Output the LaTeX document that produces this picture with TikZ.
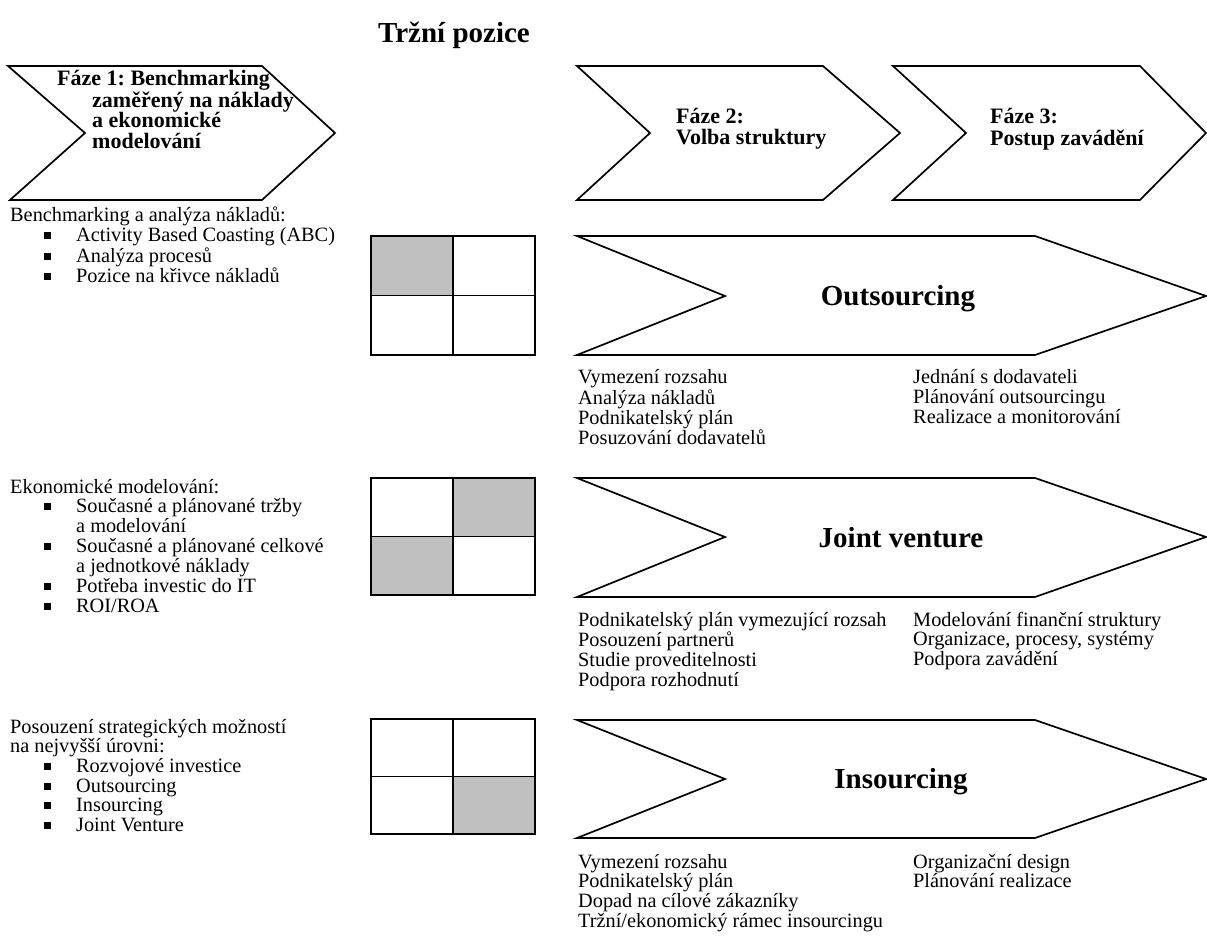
\documentclass[tikz,border=0pt]{standalone}
\usepackage{fontspec}
\setmainfont{Liberation Serif}
\frenchspacing
\definecolor{cellgray}{RGB}{192,192,192}
% one left-aligned block whose baseline is that of its first row
\newcommand\txtblock[1]{\begin{tabular}[t]{@{}l@{}}#1\end{tabular}}
% bulleted row and continuation row
\newcommand\bitem{\hspace*{34pt}\makebox[32pt][l]{\rule[2.5pt]{7pt}{7pt}}}
\newcommand\bcont{\hspace*{66pt}}
\begin{document}
\begin{tikzpicture}[x=1pt,y=-1pt,
  outline/.style={draw=black,line width=1.7pt,line join=miter,fill=white},
  gridline/.style={draw=black,line width=1.7pt},
  body/.style={anchor=base west,inner sep=0pt,font=\fontsize{20.3}{19.4}\selectfont},
  phasetxt/.style={anchor=base west,inner sep=0pt,font=\bfseries\fontsize{22}{18.6}\selectfont},
  biglabel/.style={anchor=base,inner sep=0pt,font=\bfseries\fontsize{29}{30}\selectfont}]
\useasboundingbox (0,0) rectangle (1207,949);
\renewcommand\arraystretch{1}

% heading
\node[biglabel] (title) at (454,43) {Tržní pozice};

% phase chevrons
\draw[outline] (8,66) -- (262,66) -- (335,133) -- (262,200) -- (10,200) -- (85,133) -- cycle;
\draw[outline] (577,66) -- (823,66) -- (900,133) -- (823,200) -- (577,200) -- (650,133) -- cycle;
\draw[outline] (893,66) -- (1140,66) -- (1206,133) -- (1140,200) -- (893,200) -- (966,133) -- cycle;

\node[phasetxt] (ph1) at (57,86) {\txtblock{Fáze 1: Benchmarking\\
  \hspace*{35pt}zaměřený na náklady\\ \hspace*{35pt}a ekonomické\\ \hspace*{35pt}modelování}};
\node[phasetxt] (ph2) at (676,124) {\txtblock{Fáze 2:\\ Volba struktury}};
\node[phasetxt] (ph3) at (990,124) {\txtblock{Fáze 3:\\ Postup zavádění}};

% option chevrons
\draw[outline] (577,236) -- (1035,236) -- (1206,296) -- (1035,355) -- (577,355) -- (725,296) -- cycle;
\draw[outline] (577,478) -- (1035,478) -- (1206,537) -- (1035,597) -- (577,597) -- (725,537) -- cycle;
\draw[outline] (577,720) -- (1035,720) -- (1206,779) -- (1035,838) -- (577,838) -- (725,779) -- cycle;

\node[biglabel] (out) at (898,306) {Outsourcing};
\node[biglabel] (jv) at (901,547) {Joint venture};
\node[biglabel] (ins) at (901,788) {Insourcing};

% market position grids
\fill[cellgray] (371,236) rectangle (453,295.5);
\draw[gridline] (371,236) rectangle (535,355) (453,236) -- (453,355) (371,295.5) -- (535,295.5);

\fill[cellgray] (453,478) rectangle (535,536.5);
\fill[cellgray] (371,536.5) rectangle (453,595);
\draw[gridline] (371,478) rectangle (535,595) (453,478) -- (453,595) (371,536.5) -- (535,536.5);

\fill[cellgray] (453,776.5) rectangle (535,834);
\draw[gridline] (371,719) rectangle (535,834) (453,719) -- (453,834) (371,776.5) -- (535,776.5);

% left-hand descriptions
\node[body] (l1) at (10,222) {\txtblock{Benchmarking a analýza nákladů:\\
  \bitem Activity Based Coasting (ABC)\\
  \bitem Analýza procesů\\
  \bitem Pozice na křivce nákladů}};
\node[body] (l2) at (10,493) {\txtblock{Ekonomické modelování:\\
  \bitem Současné a plánované tržby\\
  \bcont a modelování\\
  \bitem Současné a plánované celkové\\
  \bcont a jednotkové náklady\\
  \bitem Potřeba investic do IT\\
  \bitem ROI/ROA}};
\node[body] (l3) at (10,733) {\txtblock{Posouzení strategických možností\\
  na nejvyšší úrovni:\\
  \bitem Rozvojové investice\\
  \bitem Outsourcing\\
  \bitem Insourcing\\
  \bitem Joint Venture}};

% activities under each option
\node[body] (o2) at (578,384) {\txtblock{Vymezení rozsahu\\ Analýza nákladů\\ Podnikatelský plán\\ Posuzování dodavatelů}};
\node[body] (o3) at (913,384) {\txtblock{Jednání s dodavateli\\ Plánování outsourcingu\\ Realizace a monitorování}};
\node[body] (j2) at (578,626) {\txtblock{Podnikatelský plán vymezující rozsah\\ Posouzení partnerů\\ Studie proveditelnosti\\ Podpora rozhodnutí}};
\node[body] (j3) at (913,626) {\txtblock{Modelování finanční struktury\\ Organizace, procesy, systémy\\ Podpora zavádění}};
\node[body] (i2) at (578,868) {\txtblock{Vymezení rozsahu\\ Podnikatelský plán\\ Dopad na cílové zákazníky\\ Tržní/ekonomický rámec insourcingu}};
\node[body] (i3) at (913,868) {\txtblock{Organizační design\\ Plánování realizace}};
\end{tikzpicture}
\end{document}
